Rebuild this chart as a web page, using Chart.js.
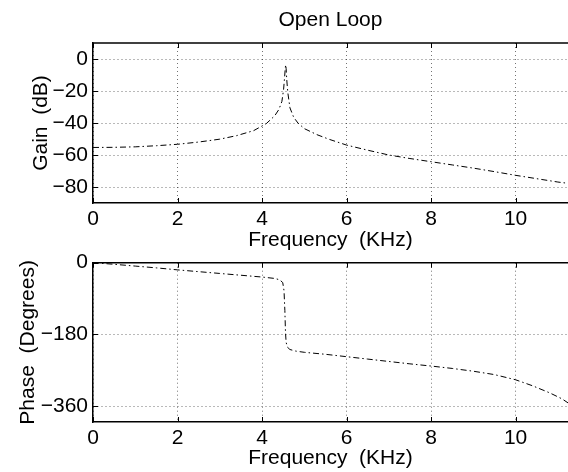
<!DOCTYPE html>
<html>
<head>
<meta charset="utf-8">
<script src="https://cdn.jsdelivr.net/npm/chart.js@4.4.1/dist/chart.umd.min.js"></script>
<style>
  body { margin: 0; background: #fff; width: 568px; height: 472px; overflow: hidden; position: relative; }
  canvas { position: absolute; left: 0; }
  #gainChart { top: 0; }
  #phaseChart { top: 240px; }
</style>
</head>
<body>
<canvas id="gainChart" width="568" height="256"></canvas>
<canvas id="phaseChart" width="568" height="232"></canvas>
<script>
// values (frequency in KHz)
const gainFreq = [0, 0.5, 1.0, 1.5, 2.0, 2.5, 3.0, 3.4, 3.8, 4.1, 4.3, 4.4, 4.47, 4.51, 4.535, 4.55, 4.56,
  4.57, 4.585, 4.61, 4.66, 4.75, 4.85, 5.0, 5.3, 5.6, 6.0, 6.5, 7.0, 7.5, 8.0, 8.5, 9.0, 9.5, 10.0, 10.5, 11.0, 11.24];
const gainDb = [-55.3, -55.2, -54.9, -54.2, -53.3, -51.9, -50.1, -47.9, -44.8, -40.4, -35.5, -31.5, -26.5, -19, -11, -5.5, -3.6,
  -6, -13, -21, -30.5, -36.5, -40, -43.5, -47.3, -50.3, -53.8, -57, -60, -62.2, -64.2, -66.2, -68.2, -70.4, -72.7, -74.8, -76.9, -77.7];

const phaseFreq = [0, 0.5, 1.0, 1.5, 2.0, 2.5, 3.0, 3.5, 4.0, 4.3, 4.42, 4.49, 4.52, 4.54, 4.555, 4.57, 4.6, 4.66,
  4.8, 5.0, 5.5, 6.0, 6.5, 7.0, 7.5, 8.0, 8.5, 9.0, 9.5, 10.0, 10.4, 10.8, 11.1, 11.24];
const phaseDeg = [0, -4, -8.5, -13, -18, -22.5, -27, -31.5, -36, -39.5, -43, -50, -70, -120, -175, -200, -212, -218,
  -222, -225, -230, -236, -242, -248, -254, -259.5, -265.5, -272.5, -281, -294, -309, -326.5, -342, -352];

const freqTicks = [0, 2, 4, 6, 8, 10];
const gainTicks = [0, -20, -40, -60, -80];
const phaseTicks = [0, -180, -360];

const FONT = "'Liberation Sans', Arial, Helvetica, sans-serif";

// MATLAB style box: top edge plus inward tick marks
const frame = {
  id: 'frame',
  afterDraw(chart) {
    const { ctx, chartArea: a, scales: { x, y } } = chart;
    ctx.save();
    ctx.strokeStyle = '#000';
    ctx.lineWidth = 1.5;
    ctx.beginPath();
    ctx.moveTo(a.left, a.top);
    ctx.lineTo(a.right, a.top);
    ctx.stroke();
    ctx.lineWidth = 1;
    ctx.beginPath();
    x.ticks.forEach(t => {
      const px = Math.round(x.getPixelForValue(t.value)) + 0.5;
      ctx.moveTo(px, a.bottom); ctx.lineTo(px, a.bottom - 5);
      ctx.moveTo(px, a.top); ctx.lineTo(px, a.top + 5);
    });
    y.ticks.forEach(t => {
      const py = Math.round(y.getPixelForValue(t.value)) + 0.5;
      ctx.moveTo(a.left, py); ctx.lineTo(a.left + 5, py);
    });
    ctx.stroke();
    ctx.restore();
  }
};

function makeChart(id, xs, ys, yMin, yMax, yTicks, yTitle, yTitlePad, cfg) {
  const ctx = document.getElementById(id).getContext('2d');
  return new Chart(ctx, {
    type: 'line',
    data: {
      datasets: [{
        data: xs.map((f, i) => ({ x: f, y: ys[i] })),
        borderColor: '#000',
        borderWidth: 1,
        borderDash: [6, 3, 1.5, 3],
        pointRadius: 0,
        tension: 0,
        fill: false,
      }],
    },
    options: {
      responsive: false,
      animation: false,
      devicePixelRatio: 1,
      layout: { padding: { left: 0, right: 0, top: cfg.padTop, bottom: 0 } },
      plugins: {
        legend: { display: false },
        tooltip: { enabled: false },
        title: cfg.title ? {
          display: true,
          text: cfg.title,
          fullSize: false,
          color: '#000',
          font: { family: FONT, size: 21, weight: 'normal' },
          padding: { top: 7.4, bottom: 10.4 },
        } : { display: false },
      },
      scales: {
        x: {
          type: 'linear',
          min: 0,
          max: 11.24,
          afterBuildTicks: s => { s.ticks = freqTicks.map(v => ({ value: v })); },
          afterFit: s => { s.height = cfg.xHeight; },
          ticks: {
            color: '#000',
            font: { family: FONT, size: 21 },
            padding: 4,
            maxRotation: 0,
            callback: v => String(v),
          },
          grid: { color: 'rgba(0,0,0,0.55)', lineWidth: 1, drawTicks: false },
          border: { color: '#000', width: 1.5, dash: [1, 3] },
          title: {
            display: true,
            text: 'Frequency  (KHz)',
            color: '#000',
            font: { family: FONT, size: 21 },
            padding: { top: 0, bottom: cfg.xTitlePad },
          },
        },
        y: {
          type: 'linear',
          min: yMin,
          max: yMax,
          afterBuildTicks: s => { s.ticks = yTicks.map(v => ({ value: v })); },
          afterFit: s => { s.width = 93; },
          ticks: {
            color: '#000',
            font: { family: FONT, size: 21 },
            padding: 5,
            callback: v => String(v).replace('-', '\u2212'),
          },
          grid: { color: 'rgba(0,0,0,0.55)', lineWidth: 1, drawTicks: false },
          border: { color: '#000', width: 1.5, dash: [1, 3] },
          title: {
            display: true,
            text: yTitle,
            color: '#000',
            font: { family: FONT, size: 21 },
            padding: { top: yTitlePad, bottom: 0 },
          },
        },
      },
    },
    plugins: [frame],
  });
}

makeChart('gainChart', gainFreq, gainDb, -90, 10, gainTicks, 'Gain  (dB)', 29,
  { title: 'Open Loop', padTop: 0, xHeight: 53, xTitlePad: 3.4 });
makeChart('phaseChart', phaseFreq, phaseDeg, -400, 0, phaseTicks, 'Phase  (Degrees)', 16,
  { title: null, padTop: 22.7, xHeight: 50, xTitlePad: 1.4 });
</script>
</body>
</html>
